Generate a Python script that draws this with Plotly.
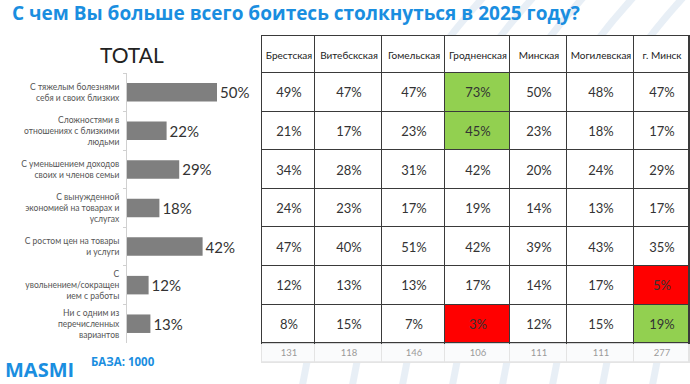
import plotly.graph_objects as go
import numpy as np

W, H = 690, 384

categories = [
    "С тяжелым болезнями<br>себя и своих близких",
    "Сложностями в<br>отношениях с близкими<br>людьми",
    "С уменьшением доходов<br>своих и членов семьи",
    "С вынужденной<br>экономией на товарах и<br>услугах",
    "С ростом цен на товары<br>и услуги",
    "С<br>увольнением/сокращен<br>ием с работы",
    "Ни с одним из<br>перечисленных<br>вариантов",
]
total = [50, 22, 29, 18, 42, 12, 13]

regions = ["Брестская", "Витебскская", "Гомельская", "Гродненская", "Минская", "Могилевская", "г. Минск"]
brest = [49, 21, 34, 24, 47, 12, 8]
vitebsk = [47, 17, 28, 23, 40, 13, 15]
gomel = [47, 23, 31, 17, 51, 13, 7]
grodno = [73, 45, 42, 19, 42, 17, 3]
minsk_obl = [50, 23, 20, 14, 39, 14, 12]
mogilev = [48, 18, 24, 13, 43, 17, 15]
minsk_city = [47, 17, 29, 17, 35, 5, 19]
bases = [131, 118, 146, 106, 111, 111, 277]

region_values = [brest, vitebsk, gomel, grodno, minsk_obl, mogilev, minsk_city]
# highlight flags per region: 1 = higher (green), 2 = lower (red)
highlights = {
    "Гродненская": [1, 1, 0, 0, 0, 0, 2],
    "г. Минск": [0, 0, 0, 0, 0, 2, 1],
}

GREEN = "#92d050"
RED = "#ff0000"
BLUE = "#1a8ee0"
CELL_WHITE = "#ffffff"

# ---- table geometry (style constants, pixel units) ----
col_widths = [53, 67, 63, 65, 57, 67, 55]
header_h = 37
row_h = 38.6
base_h = 19
TABLE_LEFT, TABLE_TOP = 262, 36

def px_x(p):
    return p / W

def px_y(p):
    return 1 - p / H

x_edges = list(np.concatenate([[0], np.cumsum(col_widths)]))
n_rows = len(categories)
data_edges = [header_h + k * row_h for k in range(n_rows + 1)]
table_bottom = data_edges[-1]
base_edges = [table_bottom, table_bottom + base_h]
tbl_w = x_edges[-1]

fig = go.Figure()

# ---- Bar chart (TOTAL) ----
fig.add_trace(go.Bar(
    x=total, y=categories, orientation="h",
    marker=dict(color="#7f7f7f", line=dict(width=0)),
    text=[f"{v}%" for v in total], textposition="outside",
    textfont=dict(family="Lato", size=15, color="#333333"),
    cliponaxis=False, width=0.48,
    hoverinfo="skip",
))

# ---- Table drawn as heatmaps ----
fig.add_trace(go.Heatmap(
    x=[-1, tbl_w + 1], y=[-1, table_bottom + 1, base_edges[1] + 1],
    z=[[1], [0]], colorscale=[[0, "#e4e4e4"], [1, "#3a3a3a"]],
    zmin=0, zmax=1, showscale=False, hoverinfo="skip",
    xaxis="x2", yaxis="y2",
))
fig.add_trace(go.Heatmap(
    x=x_edges, y=[0, header_h], z=[[0] * len(regions)],
    text=[regions], texttemplate="%{text}",
    textfont=dict(family="Lato", size=10, color="#222222"),
    colorscale=[[0, CELL_WHITE], [1, CELL_WHITE]], zmin=0, zmax=1,
    showscale=False, xgap=1, ygap=1, hoverinfo="skip",
    xaxis="x2", yaxis="y2",
))
z_cells = [[highlights.get(r, [0] * n_rows)[i] for r in regions] for i in range(n_rows)]
t_cells = [[f"{vals[i]}%" for vals in region_values] for i in range(n_rows)]
fig.add_trace(go.Heatmap(
    x=x_edges, y=data_edges, z=z_cells,
    text=t_cells, texttemplate="%{text}",
    textfont=dict(family="Lato", size=13, color="#333333"),
    colorscale=[[0, CELL_WHITE], [0.5, GREEN], [1, RED]], zmin=0, zmax=2,
    showscale=False, xgap=1, ygap=1, hoverinfo="skip",
    xaxis="x2", yaxis="y2",
))
fig.add_trace(go.Heatmap(
    x=x_edges, y=base_edges, z=[[0] * len(regions)],
    text=[[str(b) for b in bases]], texttemplate="%{text}",
    textfont=dict(family="Lato", size=9.5, color="#9a9a9a"),
    colorscale=[[0, "#fafbfc"], [1, "#fafbfc"]], zmin=0, zmax=1,
    showscale=False, xgap=1, ygap=1, hoverinfo="skip",
    xaxis="x2", yaxis="y2",
))

# faint decorative background stripes (slide background)
stripes = []
for x0 in [300, 350, 400, 450, 500, 550, 600, 650, 700]:
    stripes.append(dict(
        type="path", xref="paper", yref="paper", layer="below",
        path=(f"M {px_x(x0)} {px_y(400)} Q {px_x(x0 + 40)} {px_y(150)} "
              f"{px_x(x0 + 190)} {px_y(-10)}"),
        line=dict(color="rgba(214,226,238,0.55)", width=7),
    ))

y_total = base_edges[1] + 2
fig.update_layout(
    width=W, height=H,
    margin=dict(l=0, r=0, t=0, b=0, autoexpand=False),
    paper_bgcolor="white", plot_bgcolor="rgba(0,0,0,0)",
    showlegend=False,
    shapes=stripes,
    xaxis=dict(domain=[px_x(127), px_x(250)], range=[0, (250 - 127) / 1.8],
               visible=False, fixedrange=True, automargin=False),
    yaxis=dict(domain=[px_y(343), px_y(73)], autorange="reversed",
               showline=True, linecolor="#d0d0d0", linewidth=1,
               ticks="outside", ticklen=3, tickcolor="#d0d0d0", tickson="boundaries",
               tickfont=dict(family="Lato", size=8.5, color="#555555"),
               ticklabelstandoff=5, showgrid=False, fixedrange=True, automargin=False),
    xaxis2=dict(domain=[px_x(TABLE_LEFT - 1), px_x(TABLE_LEFT + tbl_w + 1)],
                range=[-1, tbl_w + 1], visible=False, fixedrange=True,
                anchor="y2", automargin=False),
    yaxis2=dict(domain=[px_y(TABLE_TOP + y_total), px_y(TABLE_TOP - 1)],
                range=[y_total, -1], visible=False, fixedrange=True,
                anchor="x2", automargin=False),
    annotations=[
        dict(text="С чем Вы больше всего боитесь столкнуться в 2025 году?",
             x=px_x(10), y=px_y(13), xref="paper", yref="paper",
             xanchor="left", yanchor="middle", showarrow=False,
             font=dict(family="Open Sans", size=19, color=BLUE, weight="bold")),
        dict(text="TOTAL", x=px_x(132), y=px_y(54), xref="paper", yref="paper",
             xanchor="center", yanchor="middle", showarrow=False,
             font=dict(family="Lato", size=21, color="#222222")),
        dict(text="MASMI", x=px_x(3), y=px_y(369), xref="paper", yref="paper",
             xanchor="left", yanchor="middle", showarrow=False,
             font=dict(family="Open Sans", size=20, color=BLUE, weight="bold")),
        dict(text="БАЗА: 1000", x=px_x(89), y=px_y(361), xref="paper", yref="paper",
             xanchor="left", yanchor="middle", showarrow=False,
             font=dict(family="Open Sans", size=11.5, color=BLUE, weight="bold")),
    ],
)

fig.write_html(
    "out.html",
    config={"displayModeBar": False},
    post_script="document.body.style.margin='0';document.body.style.overflow='hidden';",
)
